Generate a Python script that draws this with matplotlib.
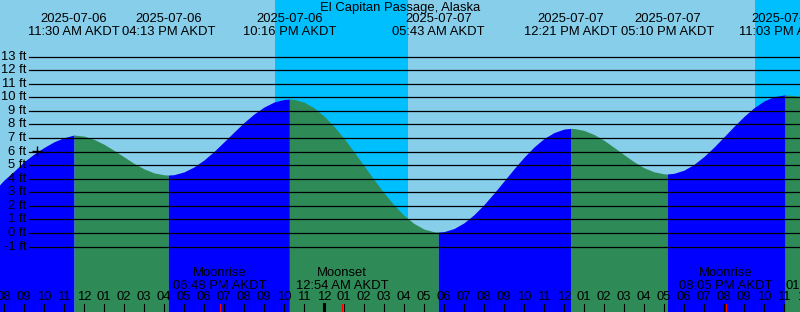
import matplotlib
matplotlib.use("Agg")
import matplotlib.pyplot as plt
import numpy as np

plt.rcParams["font.family"] = ["Liberation Sans", "DejaVu Sans"]

# ---------------------------------------------------------------------------
# Data (hours counted from 2025-07-06 00:00 AKDT, heights in feet)
# ---------------------------------------------------------------------------

title = "El Capitan Passage, Alaska"

# tide height, every half hour
curve_hours = [7.75, 8.0, 8.5, 9.0, 9.5, 10.0, 10.5, 11.0,
               12.0, 12.5, 13.0, 13.5, 14.0, 14.5, 15.0, 15.5, 16.0,
               16.5, 17.0, 17.5, 18.0, 18.5, 19.0, 19.5, 20.0, 20.5, 21.0, 21.5, 22.0,
               22.5, 23.0, 23.5, 24.0, 24.5, 25.0, 25.5, 26.0, 26.5, 27.0, 27.5,
               28.0, 28.5, 29.0, 29.5,
               30.0, 30.5, 31.0, 31.5, 32.0, 32.5, 33.0, 33.5, 34.0, 34.5, 35.0,
               35.5, 36.0,
               36.5, 37.0, 37.5, 38.0, 38.5, 39.0, 39.5, 40.0, 40.5, 41.0,
               41.5, 42.0, 42.5, 43.0, 43.5, 44.0, 44.5, 45.0, 45.5, 46.0, 46.5, 47.0,
               47.5, 48.0]
curve_feet = [3.5, 3.9, 4.55, 5.25, 5.82, 6.3, 6.72, 7.02,
              7.14, 6.9, 6.54, 6.09, 5.61, 5.13, 4.73, 4.43, 4.29,
              4.30, 4.50, 4.87, 5.38, 6.01, 6.72, 7.44, 8.14, 8.77, 9.28, 9.65, 9.84,
              9.85, 9.64, 9.22, 8.62, 7.85, 6.97, 5.98, 4.95, 3.93, 2.95, 2.06,
              1.30, 0.70, 0.29, 0.09,
              0.10, 0.33, 0.75, 1.35, 2.09, 2.94, 3.83, 4.73, 5.58, 6.34, 6.96,
              7.40, 7.66,
              7.70, 7.56, 7.26, 6.83, 6.31, 5.77, 5.25, 4.81, 4.51, 4.36,
              4.40, 4.63, 5.06, 5.64, 6.33, 7.09, 7.86, 8.59, 9.23, 9.73, 10.05, 10.17,
              10.13, 10.03]

# high / low tide events
event_hours = [11.5, 16.217, 22.267, 29.717, 36.35, 41.167, 47.05]
event_feet = [7.22, 4.27, 9.87, 0.07, 7.71, 4.35, 10.17]
event_dates = ["2025-07-06", "2025-07-06", "2025-07-06", "2025-07-07",
               "2025-07-07", "2025-07-07", "2025-07-07"]
event_times = ["11:30 AM AKDT", "04:13 PM AKDT", "10:16 PM AKDT", "05:43 AM AKDT",
               "12:21 PM AKDT", "05:10 PM AKDT", "11:03 PM AKDT"]

# night (sunset -> sunrise)
night_start = [21.57, 45.57]
night_end = [28.22, 50.0]

# moon events
moon_hours = [18.8, 24.9, 44.083]
moon_names = ["Moonrise", "Moonset", "Moonrise"]
moon_times = ["06:48 PM AKDT", "12:54 AM AKDT", "08:05 PM AKDT"]

grid_feet = list(range(-1, 14))
tick_hours = list(range(8, 49))

# ---------------------------------------------------------------------------
# Figure: 800x312 px, axis fills it
# ---------------------------------------------------------------------------

W, H = 800, 312
PX_HOUR = 20.0
X0 = 4.0                   # pixel column of 08:00 on 07-06
Y0, PX_FT = 233.0, 13.57   # pixel row of 0 ft, pixels per foot

fig = plt.figure(figsize=(W / 100, H / 100), dpi=100)
fig.patch.set_facecolor("#87CEEB")
ax = fig.add_axes([0, 0, 1, 1])
ax.set_facecolor("#87CEEB")
ax.set_xlim(8 - X0 / PX_HOUR, 8 + (W - X0) / PX_HOUR)
ax.set_ylim((Y0 - H) / PX_FT, Y0 / PX_FT)
ax.axis("off")


def px_y(py):
    return (Y0 - py) / PX_FT


def px_x(px):
    return 8 + (px - X0) / PX_HOUR


for a, b in zip(night_start, night_end):
    ax.axvspan(a, b, color="#00BFFF", lw=0, zorder=0)

# merge curve readings with events, then fill rising/falling pieces
t_all = np.array(curve_hours + event_hours)
h_all = np.array(curve_feet + event_feet)
order = np.argsort(t_all)
t_all, h_all = t_all[order], h_all[order]

bounds = [t_all[0]] + event_hours + [t_all[-1]]
bottom = px_y(H + 5)
for a, b in zip(bounds[:-1], bounds[1:]):
    m = (t_all >= a) & (t_all <= b)
    ts, hs = t_all[m], h_all[m]
    color = "#0000FF" if hs[-1] > hs[0] else "#2E8B57"
    ax.fill_between(ts, hs, bottom, color=color, lw=0, zorder=1)

# depth grid
fs = 9.4
for f in grid_feet:
    ax.plot([px_x(29), px_x(W + 5)], [f, f], color="black", lw=0.9, zorder=2)
    ax.text(px_x(26), f, f"{f} ft", ha="right", va="center", fontsize=fs, zorder=3)

ax.plot([px_x(37)], [px_y(150.5)], marker="+", color="black", ms=7, mew=1.0, zorder=3)

# top labels
ax.text(px_x(400), px_y(7.5), title, ha="center", va="center", fontsize=fs)
for t, d, s in zip(event_hours, event_dates, event_times):
    ax.text(t, px_y(19.3), d, ha="center", va="center", fontsize=fs)
    ax.text(t, px_y(31.7), s, ha="center", va="center", fontsize=fs)

# hour ticks and labels
for t in tick_hours:
    hr = t % 12
    lab = f"{12 if hr == 0 else hr:02d}"
    ax.text(t, px_y(297.5), lab, ha="center", va="center", fontsize=fs, zorder=3)
    lw = 2.2 if t % 24 == 0 else 0.8
    ax.plot([t, t], [px_y(304), px_y(H + 2)], color="black", lw=lw, zorder=3)

# moon events
for t, n, s in zip(moon_hours, moon_names, moon_times):
    ax.text(t, px_y(273.3), n, ha="center", va="center", fontsize=fs, zorder=3)
    ax.text(t, px_y(286), s, ha="center", va="center", fontsize=fs, zorder=3)
    ax.plot([t, t], [px_y(304), px_y(H + 2)], color="red", lw=0.8, zorder=4)
ax.text(px_x(785), px_y(286), "01", ha="left", va="center", fontsize=fs, zorder=3)

fig.savefig("out.png", dpi=100, facecolor=fig.get_facecolor())
